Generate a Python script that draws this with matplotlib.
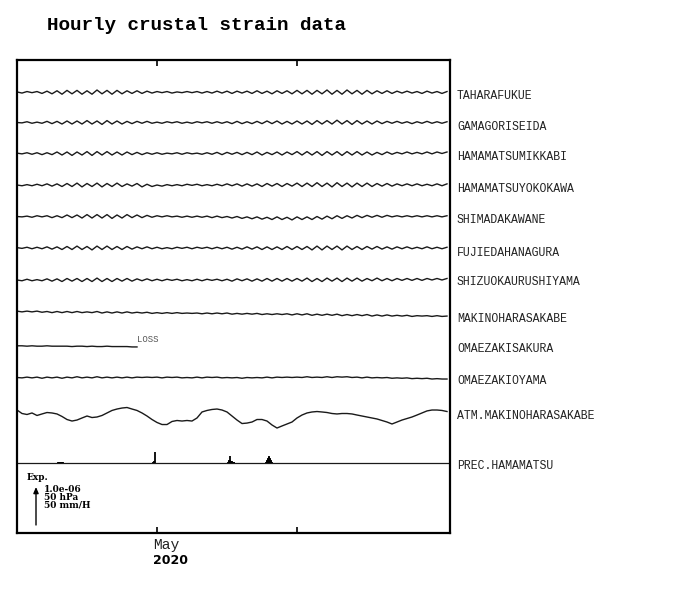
import numpy as np
import matplotlib
matplotlib.use("Agg")
import matplotlib.pyplot as plt
import matplotlib.transforms as mtransforms

# ---------------- data ----------------
# strain values in units of 1e-8, sampled every 12 hours from 17 Apr 2020 00:00
stations = ["TAHARAFUKUE", "GAMAGORISEIDA", "HAMAMATSUMIKKABI", "HAMAMATSUYOKOKAWA",
            "SHIMADAKAWANE", "FUJIEDAHANAGURA", "SHIZUOKAURUSHIYAMA", "MAKINOHARASAKABE",
            "OMAEZAKISAKURA", "OMAEZAKIOYAMA"]

taharafukue = [1,-2,2,-1,2,-3,3,
    -4,4,-5,5,-4,5,-5,4,-5,6,-4,5,-5,5,-4,4,-3,4,-3,3,
    -2,2,-1,2,-2,1,-1,2,-1,2,-2,2,-2,3,
    -2,3,-3,3,-2,3,-3,4,-3,3,-4,4,-3,4,-4,5,
    -4,5,-5,5,-4,6,-5,5,-5,6,-4,5,-5,5,-4,4,-3,4,-3,3,
    -2,3,-2,2,-3,3,-2,2,-3,2]
gamagoriseida = [0,-1,2,-2,1,-2,3,
    -3,3,-4,4,-4,4,-4,5,-4,4,-5,5,-4,4,-4,3,-3,3,-2,3,
    -2,1,-2,2,-1,2,-2,1,-2,2,-1,2,-2,2,
    -2,2,-3,3,-3,2,-3,3,-3,4,-3,4,-4,3,-4,4,
    -4,4,-5,5,-4,5,-4,6,-4,5,-5,5,-4,4,-4,4,-3,3,-2,3,
    -2,2,-3,2,-2,3,-2,2,-2,2]
hamamatsumikkabi = [1,-1,2,-2,2,-3,2,
    -3,4,-4,4,-5,4,-4,5,-5,5,-4,5,-4,4,-4,4,-3,3,-3,2,
    -2,2,-2,1,-1,2,-2,2,-1,1,-2,2,-2,3,
    -3,3,-2,3,-3,3,-3,4,-4,3,-3,4,-4,4,-3,5,
    -4,5,-4,5,-5,5,-4,5,-5,5,-4,5,-4,4,-4,3,-3,4,-2,3,
    -1,4,-1,3,-1,4,-1,4,0,4]
hamamatsuyokokawa = [0,-2,1,-2,2,-2,3,
    -3,3,-4,4,-4,5,-5,4,-4,5,-5,4,-4,5,-4,3,-3,4,-5,2,
    -4,0,-3,1,-2,1,-2,2,-1,2,-2,1,-2,2,
    -2,3,-2,3,-3,3,-3,3,-4,4,-3,4,-4,4,-3,5,
    -4,5,-4,6,-4,5,-5,6,-4,5,-5,5,-4,5,-4,4,-3,4,-3,3,
    -2,3,-2,3,-2,2,-2,3,-2,3]
shimadakawane = [0,-1,1,-2,2,-1,2,
    -3,2,-3,4,-3,4,-4,5,-4,5,-4,5,-5,4,-4,5,-3,4,-3,3,
    -2,2,-1,2,-1,1,-2,1,-2,1,-2,1,-3,1,
    -3,0,-4,0,-5,-1,-6,-1,-7,-2,-8,-1,-8,-2,-9,-1,
    -8,-1,-8,0,-7,1,-6,2,-5,2,-4,3,-3,3,-2,3,-2,3,-1,2,
    -1,2,-1,2,-1,2,-1,2,-1,2]
fujiedahanagura = [1,-1,2,-2,2,-2,3,
    -3,3,-4,4,-4,5,-4,4,-5,5,-4,5,-4,4,-4,4,-3,3,-2,3,
    -2,2,-2,1,-2,2,-1,2,-2,2,-1,2,-2,2,
    -2,2,-3,2,-3,3,-3,3,-4,3,-4,3,-4,4,-4,4,
    -4,4,-5,5,-5,5,-4,5,-5,5,-4,4,-4,4,-3,4,-3,3,-3,3,
    -2,3,-2,2,-2,3,-2,2,-2,2]
shizuokaurushiyama = [0,-2,2,-2,1,-2,3,
    -3,3,-4,4,-3,4,-4,4,-4,5,-4,4,-4,4,-3,4,-3,3,-2,3,
    -2,2,-2,2,-1,2,-2,1,-2,2,-2,2,-1,2,
    -2,2,-3,3,-2,3,-3,3,-3,4,-3,4,-3,4,-3,4,
    -3,5,-4,4,-4,5,-3,5,-4,5,-3,5,-3,4,-2,5,-2,4,-2,4,
    -1,4,-1,4,-1,4,0,4,0,4]
makinoharasakabe = [1,-1,1,-1,1,-2,0,
    -3,0,-3,0,-3,0,-3,-1,-3,0,-4,-1,-4,-1,-4,-1,-4,-2,-4,-2,
    -5,-3,-5,-3,-5,-3,-5,-4,-5,-4,-6,-4,-6,-4,
    -6,-4,-7,-5,-7,-5,-7,-5,-8,-6,-8,-6,-8,-6,-9,-6,
    -9,-6,-10,-7,-10,-7,-10,-7,-11,-8,-11,-8,-11,-8,-12,-9,-12,-9,-12,-10,
    -12,-10,-13,-11,-12,-11,-13,-11,-13,-12]
omaezakisakura = [0,0,-1,0,-1,-1,0,-1,-1,-1,-1,-2,-1,-1,-2,-1,-2,-2,-1,-2,-2,-2,-2,-3,-3]
omaezakioyama = [0,-1,1,-1,1,-2,1,-1,1,-2,1,-1,2,-1,1,-1,2,-1,1,-1,1,-1,1,-1,1,0,1,
    0,1,-1,1,0,1,-1,0,-1,1,-1,1,0,1,
    -1,0,-1,0,-2,0,-1,0,-1,1,-1,1,0,1,0,1,
    0,2,0,1,0,2,0,2,1,2,0,1,-1,1,-1,0,-1,0,-2,-1,
    -2,-1,-3,-2,-3,-2,-4,-3,-4,-4]

strain_series = [taharafukue, gamagoriseida, hamamatsumikkabi, hamamatsuyokokawa,
                 shimadakawane, fujiedahanagura, shizuokaurushiyama, makinoharasakabe,
                 omaezakisakura, omaezakioyama]

# atmospheric pressure (hPa) at MAKINOHARASAKABE, every 12 hours
atm_pressure = [1022.2,1017.6,1016.3,1018.3,1015.0,1017.0,1018.9,1018.3,1017.0,1013.7,
    1009.7,1007.7,1009.0,1011.7,1014.3,1012.3,1013.0,1015.0,1018.3,1021.6,
    1023.5,1024.8,1025.5,1023.5,1021.6,1018.3,1014.3,1009.7,1005.8,1003.1,
    1003.1,1007.1,1008.4,1007.7,1008.4,1007.7,1011.7,1019.6,1021.6,1022.9,
    1023.5,1022.2,1019.6,1014.3,1009.0,1004.4,1005.0,1006.4,1009.7,1009.7,
    1007.7,1002.5,998.5,1001.2,1003.8,1006.4,1011.7,1015.6,1018.3,1019.6,
    1020.2,1019.6,1018.9,1017.6,1017.0,1017.6,1017.6,1017.0,1015.6,1014.3,
    1013.0,1011.7,1010.4,1008.4,1006.4,1003.8,1006.4,1009.0,1011.0,1013.0,
    1015.6,1018.3,1021.0,1022.2,1022.2,1021.6,1020.2]
atm_ref = 1013.0

# hourly precipitation at HAMAMATSU (mm/h), hours since start
prec_hour = [98,100,102,104,106,108,110,
             300,304,308,312,316,320,324,327,329,331,
             506,507,508,509,510,511,512,513,514,516,518,520,522,524,526,528,
             595,597,599,601,602,603,604,605,606,607,608,609,610,612,614,
             1021]
prec_mm = [1.2,1.2,1.2,1.2,1.2,1.2,1.2,
           0.6,0.6,0.6,0.6,0.6,0.6,0.8,1.5,2.5,15.0,
           1.0,1.5,2.0,3.0,4.0,9.5,4.0,3.5,3.0,2.5,2.0,2.0,1.5,1.0,1.0,0.8,
           1.0,2.0,3.0,4.5,5.5,7.0,8.5,9.0,8.0,7.0,6.0,4.5,3.5,2.0,1.0,
           1.0]

tick_days = [14, 28]
tick_labels = ["May", ""]
year_label = "2020"

# --------------- layout ---------------
W, H = 700, 590
fig = plt.figure(figsize=(7, 5.9), dpi=100)
L, R, T, B = 17, 450, 60, 533
ax = fig.add_axes([L / W, 1 - B / H, (R - L) / W, (B - T) / H])

px_per_unit = 38 / 100.0          # 1.0e-06 (=100 units) -> 38 px
ymax = (B - T) / px_per_unit
ax.set_ylim(0, ymax)
ax.set_xlim(0, 43.3)

def yoff(ypix):
    return (B - ypix) / px_per_unit

trace_y = [92.3, 122.5, 153.5, 185.0, 216.5, 248.0, 280.0, 311.5, 345.8, 377.5]
label_y = [96, 127, 157, 189, 220, 253, 282, 319, 349, 381]
line_col = "#1a1a1a"

for vals, ty in zip(strain_series, trace_y):
    v = np.asarray(vals, dtype=float)
    t = np.arange(len(v)) * 0.5
    ax.plot(t, yoff(ty) + v, color=line_col, lw=1.0, solid_joinstyle="round")

# LOSS marker after OMAEZAKISAKURA
loss_end = (len(omaezakisakura) - 1) * 0.5
ax.text(loss_end, yoff(339), "LOSS", fontsize=6.5, family="Liberation Mono",
        color="#555555", ha="left", va="center")

# pressure (50 hPa -> 100 units)
p = (np.asarray(atm_pressure) - atm_ref) * 2.0
tp = np.arange(len(p)) * 0.5
ax.plot(tp, yoff(417) + p, color=line_col, lw=1.0)

# precipitation (50 mm/H -> 100 units)
base = yoff(463.3)
ax.axhline(base, color=line_col, lw=0.9)
ph = np.asarray(prec_hour) / 24.0
ax.vlines(ph, base, base + np.asarray(prec_mm) * 2.0, color="black", lw=1.3)

# labels
for name, ly in zip(stations, label_y):
    fig.text(457 / W, 1 - ly / H, name, family="Liberation Mono", fontsize=8.3,
             color="#222222", ha="left", va="center")
fig.text(457 / W, 1 - 416 / H, "ATM.MAKINOHARASAKABE", family="Liberation Mono",
         fontsize=8.3, color="#222222", ha="left", va="center")
fig.text(457 / W, 1 - 466 / H, "PREC.HAMAMATSU", family="Liberation Mono",
         fontsize=8.3, color="#222222", ha="left", va="center")

# scale legend
trans = mtransforms.blended_transform_factory(ax.transAxes, ax.transData)
ax_x = (36 - L) / (R - L)
ax.annotate("", xy=(ax_x, yoff(525) + 100), xytext=(ax_x, yoff(525)),
            xycoords=trans, textcoords=trans,
            arrowprops=dict(arrowstyle="-|>,head_length=0.35,head_width=0.15",
                            color="black", lw=1.0, shrinkA=0, shrinkB=0))
serif = dict(family="DejaVu Serif", fontweight="bold", fontsize=6.5, color="black",
             ha="left", va="center")
fig.text(27 / W, 1 - 478 / H, "Exp.", **serif)
fig.text(44 / W, 1 - 490 / H, "1.0e-06", **serif)
fig.text(44 / W, 1 - 497.5 / H, "50 hPa", **serif)
fig.text(44 / W, 1 - 505 / H, "50 mm/H", **serif)

# axes styling
for s in ax.spines.values():
    s.set_linewidth(1.6)
    s.set_color("black")
ax.set_yticks([])
ax.set_xticks(tick_days)
ax.set_xticklabels([])
ax.tick_params(axis="x", direction="in", length=4, width=1.2, top=True, bottom=True)

fig.text(153 / W, 1 - 545 / H, tick_labels[0], family="Liberation Mono", fontsize=10.5,
         color="#222222", ha="left", va="center")
fig.text(153 / W, 1 - 561 / H, year_label, family="DejaVu Sans", fontweight="bold",
         fontsize=9, color="black", ha="left", va="center")

fig.text(47 / W, 1 - 25 / H, "Hourly crustal strain data", family="Liberation Mono",
         fontweight="bold", fontsize=13.9, color="black", ha="left", va="center")

fig.savefig("out.png", dpi=100)
